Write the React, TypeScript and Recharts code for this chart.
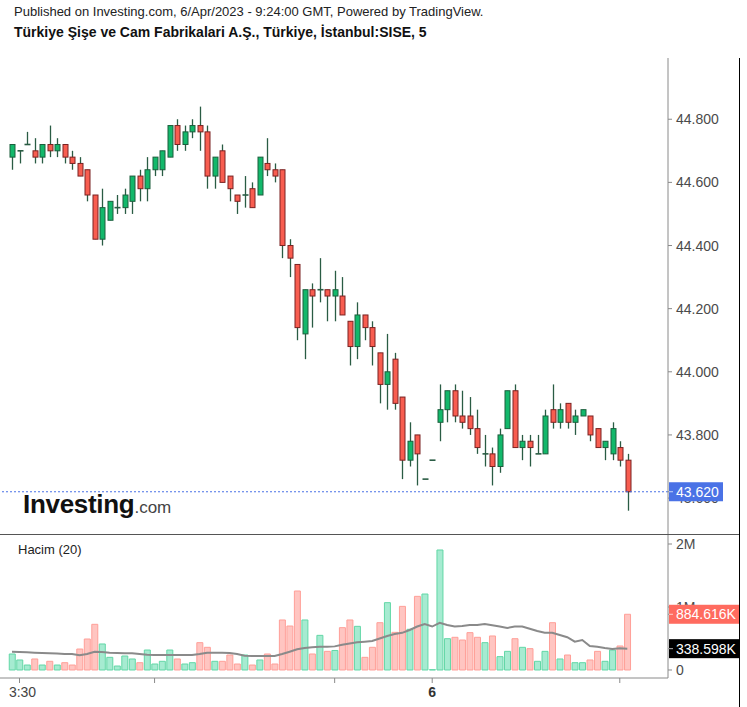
import React from 'react';
import { ComposedChart, Bar, Line, XAxis, YAxis, ReferenceLine, Cell } from 'recharts';

const OPEN = [44.68,44.70,44.72,44.70,44.68,44.72,44.70,44.72,44.68,44.66, 44.64,44.56,44.42,44.48,44.52,44.52,44.54,44.62,44.58,44.64, 44.64,44.68,44.78,44.72,44.76,44.78,44.76,44.62,44.70,44.62, 44.56,44.56,44.58,44.56,44.66,44.64,44.64,44.40,44.34,44.12, 44.26,44.26,44.26,44.24,44.24,44.16,44.08,44.18,44.14,44.06, 43.96,44.04,43.92,43.72,43.80,43.66,43.72,43.84,43.88,43.94, 43.86,43.86,43.82,43.74,43.74,43.70,43.82,43.94,43.76,43.78, 43.74,43.74,43.88,43.84,43.90,43.84,43.86,43.86,43.82,43.76, 43.74,43.76,43.72];
const HIGH = [44.72,44.70,44.76,44.74,44.72,44.78,44.74,44.72,44.70,44.68, 44.64,44.56,44.58,44.54,44.56,44.58,44.62,44.64,44.68,44.68, 44.70,44.78,44.80,44.78,44.80,44.84,44.78,44.68,44.72,44.62, 44.56,44.62,44.60,44.68,44.74,44.66,44.64,44.42,44.34,44.26, 44.28,44.36,44.26,44.32,44.30,44.16,44.22,44.18,44.16,44.06, 44.12,44.06,43.92,43.84,43.80,43.66,43.72,43.96,43.94,43.96, 43.94,43.92,43.88,43.80,43.76,43.82,43.94,43.96,43.80,43.80, 43.80,43.88,43.96,43.90,43.90,43.88,43.88,43.86,43.82,43.78, 43.84,43.78,43.74];
const LOW = [44.64,44.66,44.72,44.66,44.66,44.68,44.68,44.66,44.64,44.62, 44.54,44.42,44.40,44.48,44.50,44.50,44.50,44.54,44.54,44.62, 44.62,44.68,44.70,44.70,44.74,44.70,44.58,44.58,44.60,44.54, 44.50,44.52,44.52,44.56,44.62,44.60,44.36,44.30,44.10,44.04, 44.14,44.22,44.16,44.16,44.18,44.02,44.04,44.10,44.02,43.90, 43.88,43.88,43.66,43.70,43.64,43.66,43.72,43.78,43.84,43.84, 43.82,43.80,43.74,43.70,43.64,43.68,43.82,43.76,43.72,43.70, 43.74,43.74,43.82,43.82,43.82,43.80,43.86,43.78,43.76,43.72, 43.72,43.70,43.56];
const CLOSE = [44.72,44.70,44.72,44.68,44.72,44.70,44.72,44.68,44.66,44.62, 44.56,44.42,44.52,44.54,44.52,44.56,44.62,44.58,44.64,44.68, 44.70,44.78,44.72,44.76,44.78,44.76,44.62,44.68,44.60,44.58, 44.54,44.56,44.52,44.68,44.64,44.62,44.40,44.36,44.14,44.26, 44.24,44.26,44.24,44.26,44.18,44.08,44.18,44.14,44.08,43.96, 44.00,43.90,43.72,43.78,43.74,43.66,43.72,43.88,43.94,43.86, 43.84,43.82,43.76,43.74,43.70,43.80,43.94,43.76,43.78,43.76, 43.74,43.86,43.84,43.88,43.84,43.86,43.88,43.80,43.76,43.78, 43.82,43.72,43.62];
// volume in millions
const VOLUME = [0.254,0.159,0.079,0.175,0.079,0.138,0.079,0.116,0.079,0.333, 0.492,0.725,0.413,0.201,0.063,0.222,0.175,0.116,0.317,0.095, 0.138,0.317,0.175,0.095,0.116,0.434,0.36,0.138,0.138,0.238, 0.095,0.238,0.079,0.159,0.254,0.095,0.794,0.698,1.254,0.794, 0.254,0.550,0.296,0.31,0.672,0.794,0.693,0.201,0.36,0.751, 1.069,0.598,1.01,0.646,1.169,1.206,0.005,1.905,0.497,0.519, 0.476,0.593,0.519,0.434,0.540,0.212,0.296,0.497,0.36,0.339, 0.138,0.296,0.751,0.175,0.238,0.116,0.116,0.159,0.296,0.138, 0.317,0.381,0.884616];
const VOLUME_MA = [0.29,0.286,0.28,0.275,0.27,0.265,0.26,0.254,0.254,0.233, 0.254,0.29,0.286,0.275,0.27,0.265,0.265,0.254,0.243,0.238, 0.238,0.238,0.238,0.238,0.238,0.254,0.275,0.275,0.275,0.27, 0.254,0.228,0.222,0.222,0.222,0.222,0.254,0.29,0.328,0.349, 0.36,0.37,0.37,0.375,0.40,0.42,0.44,0.45,0.46,0.50, 0.54,0.57,0.59,0.635,0.69,0.73,0.69,0.75,0.714,0.69, 0.70,0.714,0.714,0.73,0.71,0.69,0.667,0.69,0.69,0.656, 0.62,0.59,0.59,0.555,0.52,0.45,0.476,0.38,0.37,0.35, 0.333,0.345,0.338598];

const LAST_PRICE = 43.62;
const LAST_VOLUME = 0.884616;
const LAST_VOLUME_MA = 0.338598;
// last entries are the value tags, drawn last so they sit on top of the plain labels
const PRICE_TICKS = [43.6, 43.8, 44.0, 44.2, 44.4, 44.6, 44.8, LAST_PRICE];
const VOLUME_TICKS = [0, 1, 2, LAST_VOLUME, LAST_VOLUME_MA];
const TIME_TICKS = [1, 19, 43, 56, 81];
const TIME_LABELS = ['3:30', '', '', '6', ''];

const FONT = '"Liberation Sans", Arial, sans-serif';
const GREEN = '#13b86b';
const GREEN_EDGE = '#1c5e3d';
const RED = '#f85d50';
const RED_EDGE = '#7a2222';
const WICK = '#2a5c44';
const BLUE = '#4a72e6';
const AXIS_TEXT = '#4a4a4a';

const data = OPEN.map((o, i) => ({
  idx: i,
  open: o,
  high: HIGH[i],
  low: LOW[i],
  close: CLOSE[i],
  range: [LOW[i], HIGH[i]],
  vol: VOLUME[i],
  ma: VOLUME_MA[i],
  up: CLOSE[i] >= o,
}));

const X_PAD = { left: 8.25, right: 36.95 };

const Candle = (props: any) => {
  const { x, y, width, height, payload } = props;
  if (payload == null || x == null) return null;
  const { open, close, high, low } = payload;
  const cx = Math.round(x + width / 2) + 0.5;
  const span = high - low;
  const toY = (v: number) => (span === 0 ? y : y + ((high - v) / span) * height);
  const top = toY(Math.max(open, close));
  const bot = toY(Math.min(open, close));
  const up = close >= open;
  const bw = 6;
  return (
    <g>
      {height > 0 && (
        <line x1={cx} x2={cx} y1={y} y2={y + height} stroke={WICK} strokeWidth={1.3} />
      )}
      {bot - top < 1 ? (
        <rect x={cx - bw / 2} y={top - 0.8} width={bw} height={1.6} fill={WICK} />
      ) : (
        <rect
          x={cx - bw / 2 + 0.5}
          y={top}
          width={bw - 1}
          height={bot - top}
          fill={up ? GREEN : RED}
          stroke={up ? GREEN_EDGE : RED_EDGE}
          strokeWidth={1}
        />
      )}
    </g>
  );
};

const tagBox = (x: number, y: number, w: number, fill: string, text: string) => (
  <g>
    <rect x={x - 7} y={y - 9.5} width={w} height={19} fill={fill} />
    <line x1={x - 7} x2={x - 3} y1={y} y2={y} stroke="#ffffff" strokeOpacity={0.7} />
    <text x={x} y={y} dy={5} fill="#ffffff" fontSize={14} fontFamily={FONT}>
      {text}
    </text>
  </g>
);

const PriceTick = (props: any) => {
  const { x, y, payload } = props;
  const v = payload.value as number;
  if (v === LAST_PRICE) return tagBox(x, y, 54, BLUE, v.toFixed(3));
  return (
    <text x={x} y={y} dy={5} fill={AXIS_TEXT} fontSize={14} fontFamily={FONT}>
      {v.toFixed(3)}
    </text>
  );
};

const VolumeTick = (props: any) => {
  const { x, y, payload } = props;
  const v = payload.value as number;
  if (v === LAST_VOLUME) return tagBox(x, y, 70, '#ff6b5f', `${(v * 1000).toFixed(3)}K`);
  if (v === LAST_VOLUME_MA) return tagBox(x, y, 70, '#000000', `${(v * 1000).toFixed(3)}K`);
  return (
    <text x={x} y={y} dy={5} fill={AXIS_TEXT} fontSize={14} fontFamily={FONT}>
      {v === 0 ? '0' : `${v}M`}
    </text>
  );
};

const TimeTick = (props: any) => {
  const { x, y, payload } = props;
  const i = TIME_TICKS.indexOf(payload.value);
  const label = i >= 0 ? TIME_LABELS[i] : '';
  const bold = label === '6';
  return (
    <text
      x={x + (bold ? 0 : 3)}
      y={y}
      dy={11}
      textAnchor="middle"
      fontSize={14}
      fontFamily={FONT}
      fontWeight={bold ? 'bold' : 'normal'}
      fill={bold ? '#333' : '#444'}
    >
      {label}
    </text>
  );
};

export default function App() {
  return (
    <div
      style={{
        position: 'absolute',
        left: 0,
        top: 0,
        width: 747,
        height: 707,
        background: '#fff',
        fontFamily: FONT,
        overflow: 'hidden',
      }}
    >
      <div style={{ position: 'absolute', left: 14, top: 4.5, fontSize: 13, lineHeight: '13px', color: '#222', whiteSpace: 'nowrap' }}>
        Published on Investing.com, 6/Apr/2023 - 9:24:00 GMT, Powered by TradingView.
      </div>
      <div style={{ position: 'absolute', left: 14, top: 25, fontSize: 14, lineHeight: '14px', fontWeight: 'bold', color: '#111', whiteSpace: 'nowrap' }}>
        Türkiye Şişe ve Cam Fabrikalari A.Ş., Türkiye, İstanbul:SISE, 5
      </div>

      <div style={{ position: 'absolute', left: 0, top: 58 }}>
        <ComposedChart width={739} height={477} data={data} margin={{ top: 0, right: 0, bottom: 0, left: 0 }}>
          <XAxis dataKey="idx" type="category" hide padding={X_PAD} />
          <YAxis
            orientation="right"
            width={71}
            domain={[43.483, 44.994]}
            allowDataOverflow
            ticks={PRICE_TICKS}
            interval={0}
            tick={<PriceTick />}
            tickSize={4}
            tickMargin={4}
            axisLine={{ stroke: '#8a8a8a' }}
            tickLine={{ stroke: '#8a8a8a' }}
          />
          <ReferenceLine y={LAST_PRICE} stroke={BLUE} strokeDasharray="2 2" strokeWidth={1} />
          <Bar dataKey="range" barSize={6} shape={<Candle />} isAnimationActive={false} />
        </ComposedChart>
      </div>

      <div style={{ position: 'absolute', left: 0, top: 535 }}>
        <ComposedChart width={739} height={172} data={data} margin={{ top: 0, right: 0, bottom: 0, left: 0 }}>
          <XAxis
            dataKey="idx"
            type="category"
            padding={X_PAD}
            height={29}
            ticks={TIME_TICKS}
            interval={0}
            tickSize={5}
            tickMargin={3}
            axisLine={{ stroke: '#8a8a8a' }}
            tickLine={{ stroke: '#8a8a8a' }}
            tick={<TimeTick />}
          />
          <YAxis
            orientation="right"
            width={71}
            domain={[-0.127, 2.143]}
            allowDataOverflow
            ticks={VOLUME_TICKS}
            interval={0}
            tick={<VolumeTick />}
            tickSize={4}
            tickMargin={4}
            axisLine={{ stroke: '#8a8a8a' }}
            tickLine={{ stroke: '#8a8a8a' }}
          />
          <Bar dataKey="vol" barSize={6} isAnimationActive={false}>
            {data.map((d, i) => (
              <Cell
                key={i}
                fill={d.up ? '#a6ebd1' : '#ffc5c1'}
                stroke={d.up ? '#62d7a6' : '#ff9f98'}
                strokeWidth={1}
              />
            ))}
          </Bar>
          <Line
            dataKey="ma"
            type="linear"
            stroke="#8a8a8a"
            strokeWidth={2}
            dot={false}
            isAnimationActive={false}
          />
        </ComposedChart>
      </div>

      <div style={{ position: 'absolute', left: 0, top: 534, width: 739, height: 1, background: '#555' }} />
      <div style={{ position: 'absolute', left: 739, top: 58, width: 1, height: 649, background: '#000' }} />

      <div style={{ position: 'absolute', left: 18, top: 543, fontSize: 13, lineHeight: '13px', color: '#222', whiteSpace: 'nowrap' }}>
        Hacim (20)
      </div>

      <div style={{ position: 'absolute', left: 23, top: 491, whiteSpace: 'nowrap', lineHeight: '26px' }}>
        <span style={{ fontSize: 26, fontWeight: 'bold', color: '#111', letterSpacing: '-0.3px' }}>Investing</span>
        <span style={{ fontSize: 17, color: '#444' }}>.com</span>
      </div>
    </div>
  );
}
